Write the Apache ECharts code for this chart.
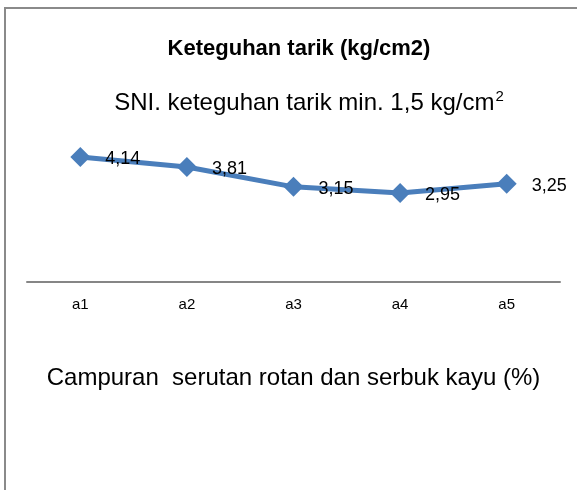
<!DOCTYPE html>
<html>
<head>
<meta charset="utf-8">
<script src="https://cdn.jsdelivr.net/npm/echarts@6/dist/echarts.min.js"></script>
<style>
  html, body { margin: 0; padding: 0; background: #fff; }
  #main { width: 577px; height: 490px; }
</style>
</head>
<body>
<div id="main"></div>
<script>
// data
const categories = ['a1', 'a2', 'a3', 'a4', 'a5'];
const values = [4.14, 3.81, 3.15, 2.95, 3.25];

const chart = echarts.init(document.getElementById('main'));

const font = 'Liberation Sans, Arial, sans-serif';

var option = {
  backgroundColor: '#ffffff',
  animation: false,
  // chart frame (only left and top edges visible)
  graphic: [{
    type: 'rect',
    shape: { x: 5, y: 8, width: 620, height: 520 },
    style: { fill: 'none', stroke: '#8a8a8a', lineWidth: 2 },
    silent: true
  }],
  title: [{
    text: 'Keteguhan tarik (kg/cm2)',
    left: 294,
    textAlign: 'center',
    top: 33,
    textStyle: { fontFamily: font, fontSize: 22, fontWeight: 'bold', color: '#000' }
  }, {
    text: '{t|SNI. keteguhan tarik min. 1,5 kg/cm}{s|2}',
    left: 304,
    textAlign: 'center',
    top: 84,
    textStyle: {
      fontWeight: 'normal',
      rich: {
        t: { fontFamily: font, fontSize: 24, fontWeight: 'normal', color: '#000', lineHeight: 28 },
        s: { fontFamily: font, fontSize: 15, fontWeight: 'normal', color: '#000', verticalAlign: 'top', lineHeight: 28, padding: [0, 0, 0, 1] }
      }
    }
  }],
  grid: { left: 27, right: 17, top: 131, height: 151, containLabel: false },
  xAxis: {
    type: 'category',
    data: categories,
    boundaryGap: true,
    name: 'Campuran  serutan rotan dan serbuk kayu (%)',
    nameLocation: 'middle',
    nameGap: 84,
    nameTextStyle: { fontFamily: font, fontSize: 24, color: '#000' },
    axisLine: { lineStyle: { color: '#868686', width: 2 } },
    axisTick: { show: false },
    axisLabel: { fontFamily: font, fontSize: 15, color: '#000', margin: 15 }
  },
  yAxis: {
    type: 'value',
    min: 0,
    max: 5,
    show: false
  },
  series: [{
    type: 'line',
    data: values,
    symbol: 'diamond',
    symbolSize: 20,
    lineStyle: { color: '#4a7ebb', width: 5 },
    itemStyle: { color: '#4a7ebb' },
    label: {
      show: true,
      position: 'right',
      distance: 15,
      offset: [0, 2],
      fontFamily: font,
      fontSize: 18,
      color: '#000',
      formatter: p => String(p.value).replace('.', ',')
    }
  }]
};

chart.setOption(option);
</script>
</body>
</html>
